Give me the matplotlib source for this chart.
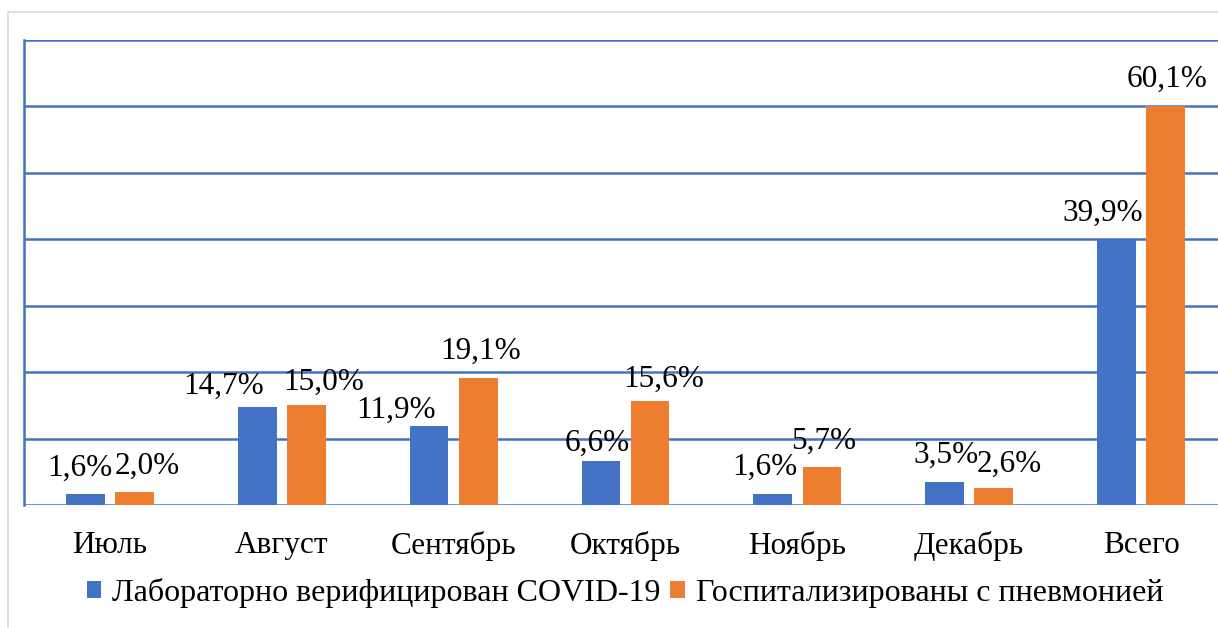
import matplotlib
matplotlib.use("Agg")
import matplotlib.pyplot as plt
import numpy as np
from matplotlib.patches import Rectangle

# Data
categories = ["Июль", "Август", "Сентябрь", "Октябрь", "Ноябрь", "Декабрь", "Всего"]
lab_covid = [1.6, 14.7, 11.9, 6.6, 1.6, 3.5, 39.9]
pneumonia = [2.0, 15.0, 19.1, 15.6, 5.7, 2.6, 60.1]
series_names = ["Лабораторно верифицирован COVID-19", "Госпитализированы с пневмонией"]

# Label nudges (pixels) to keep neighbouring value labels apart
lab_dx = [-5, -34, -33, -4, -8, 1, -14]
lab_dy = [19, 14, 8, 10, 20, 19, 19]
pn_dx = [13, 17, 2, 14, 2, 15, 1]
pn_dy = [18, 16, 19, 15, 18, 16, 19]

BLUE = "#4472C4"
ORANGE = "#ED7D31"
FONT = "Liberation Serif"
FS = 22.5

W, H = 1218, 628
fig = plt.figure(figsize=(W / 100, H / 100), dpi=100)

# thin grey frame around the chart area
fig.patches.append(Rectangle((8 / W, -0.1), 1.2, (H - 12) / H + 0.1,
                             transform=fig.transFigure, fill=False,
                             edgecolor="#d9d9d9", linewidth=1.2))

ax = fig.add_axes([24 / W, 1 - 505 / H, 1203 / W, 465 / H])
x = np.arange(len(categories))
bw = 0.225
off = 0.143
b1 = ax.bar(x - off, lab_covid, bw, color=BLUE, label=series_names[0], zorder=3)
b2 = ax.bar(x + off, pneumonia, bw, color=ORANGE, label=series_names[1], zorder=3)

ax.set_xlim(-0.5, len(categories) - 0.5)
ax.set_ylim(0, 70)
ax.set_yticks(np.arange(0, 71, 10))
ax.set_yticklabels([])
ax.tick_params(axis="y", length=0)
ax.grid(axis="y", color=BLUE, linewidth=1.8, zorder=0)
ax.set_axisbelow(True)
for s in ["top", "right", "bottom"]:
    ax.spines[s].set_visible(False)
ax.spines["left"].set_color(BLUE)
ax.spines["left"].set_linewidth(1.8)

ax.set_xticks(x)
ax.set_xticklabels(categories, fontfamily=FONT, fontsize=FS)
ax.tick_params(axis="x", length=0, pad=19)


def fmt(v):
    return f"{v:.1f}%".replace(".", ",")


for xi, v, dx, dy in zip(x - off, lab_covid, lab_dx, lab_dy):
    ax.annotate(fmt(v), (xi, v), xytext=(dx, dy), textcoords="offset pixels",
                ha="center", va="baseline", fontfamily=FONT, fontsize=FS,
                zorder=5)
for xi, v, dx, dy in zip(x + off, pneumonia, pn_dx, pn_dy):
    ax.annotate(fmt(v), (xi, v), xytext=(dx, dy), textcoords="offset pixels",
                ha="center", va="baseline", fontfamily=FONT, fontsize=FS,
                zorder=5)

leg = fig.legend(handles=[b1, b2], loc="center", bbox_to_anchor=(625 / W, 1 - 593 / H),
                 ncol=2, frameon=False, prop={"family": FONT, "size": 23},
                 handlelength=0.45, handleheight=0.45, handletextpad=0.35,
                 columnspacing=0.3, borderaxespad=0)

fig.savefig("out.png", dpi=100)
